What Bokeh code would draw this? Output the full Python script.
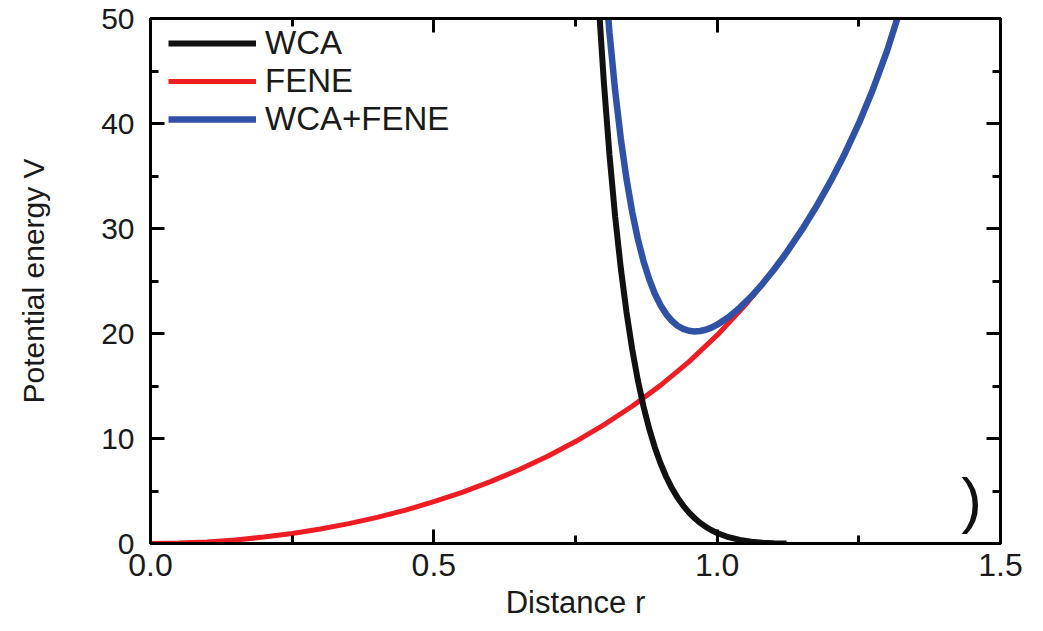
from bokeh.plotting import figure
from bokeh.models import (Range1d, LinearAxis, SingleIntervalTicker, NumeralTickFormatter,
                          CustomJSTickFormatter, Legend, LegendItem, Label)
from bokeh.embed import file_html
from bokeh.resources import INLINE

# ---- data ----
r_fene = [0.0, 0.05, 0.1, 0.15, 0.2, 0.25, 0.3, 0.35, 0.4, 0.45, 0.5, 0.55, 0.6, 0.65,
          0.7, 0.75, 0.8, 0.85, 0.9, 0.95, 1.0, 1.05, 1.1, 1.15, 1.175, 1.2, 1.225,
          1.25, 1.275, 1.3, 1.33]
v_fene = [0.0, 0.04, 0.15, 0.34, 0.61, 0.95, 1.38, 1.89, 2.49, 3.18, 3.98, 4.87, 5.89, 7.02,
          8.29, 9.71, 11.30, 13.07, 15.06, 17.30, 19.84, 22.73, 26.05, 29.91, 32.09, 34.48, 37.10,
          40.01, 43.27, 46.94, 52.07]

r_wca = [0.78, 0.79, 0.80, 0.81, 0.82, 0.83, 0.84, 0.85, 0.86, 0.87, 0.88, 0.89, 0.90, 0.91,
         0.92, 0.93, 0.94, 0.95, 0.96, 0.97, 0.98, 0.99, 1.00, 1.02, 1.04, 1.06, 1.08, 1.10, 1.1225]
v_wca = [62.1, 52.2, 43.96, 36.99, 31.12, 26.19, 22.03, 18.52, 15.55, 13.05, 10.94, 9.15, 7.64, 6.36,
         5.28, 4.37, 3.61, 2.96, 2.42, 1.96, 1.58, 1.26, 1.0, 0.60, 0.34, 0.17, 0.07, 0.02, 0.0]

r_sum = [0.80, 0.81, 0.82, 0.83, 0.84, 0.85, 0.86, 0.87, 0.88, 0.89, 0.90, 0.91, 0.92, 0.93,
         0.94, 0.95, 0.96, 0.97, 0.98, 0.99, 1.00, 1.02, 1.04, 1.06, 1.08, 1.10, 1.12, 1.15,
         1.175, 1.2, 1.225, 1.25, 1.275, 1.3, 1.33]
v_sum = [55.26, 48.63, 43.10, 38.53, 34.73, 31.59, 29.00, 26.89, 25.18, 23.79, 22.70, 21.85, 21.21, 20.74,
         20.44, 20.26, 20.20, 20.24, 20.36, 20.56, 20.84, 21.55, 22.46, 23.52, 24.73, 26.07, 27.52, 29.91,
         32.09, 34.48, 37.10, 40.01, 43.27, 46.94, 52.07]

series_names = ["WCA", "FENE", "WCA+FENE"]
x_title = "Distance r"
y_title = "Potential energy V"

FONT = "Liberation Sans"
TXT = "#1a1a1a"

p = figure(width=1043, height=631, output_backend="svg", toolbar_location=None,
           x_range=Range1d(0, 1.5), y_range=Range1d(0, 50),
           min_border_left=150, min_border_right=43, min_border_top=18, min_border_bottom=88,
           background_fill_color="white", border_fill_color="white")
p.xgrid.visible = False
p.ygrid.visible = False
p.outline_line_color = "black"
p.outline_line_width = 3

r_red = p.line(r_fene, v_fene, line_color="#ee1d23", line_width=5)
r_black = p.line(r_wca, v_wca, line_color="#111111", line_width=6)
r_blue = p.line(r_sum, v_sum, line_color="#3052a6", line_width=6.5)

def style_axis(ax, ticker, show_labels):
    ax.ticker = ticker
    ax.axis_line_color = "black"
    ax.axis_line_width = 3
    ax.major_tick_line_color = "black"
    ax.major_tick_line_width = 3
    ax.minor_tick_line_color = "black"
    ax.minor_tick_line_width = 3
    ax.major_tick_in = 14
    ax.major_tick_out = 0
    ax.minor_tick_in = 8
    ax.minor_tick_out = 0
    ax.major_label_text_font = FONT
    ax.major_label_text_color = TXT
    if not show_labels:
        ax.formatter = CustomJSTickFormatter(code="return ''")
        ax.major_label_standoff = 0

xt = SingleIntervalTicker(interval=0.5, num_minor_ticks=2)
yt = SingleIntervalTicker(interval=10, num_minor_ticks=2)

xa = p.xaxis[0]
style_axis(xa, xt, True)
xa.formatter = NumeralTickFormatter(format="0.0")
xa.major_label_text_font_size = "32px"
xa.major_label_standoff = 10
xa.axis_label = x_title
xa.axis_label_text_font = FONT
xa.axis_label_text_font_style = "normal"
xa.axis_label_text_font_size = "31px"
xa.axis_label_text_color = TXT
xa.axis_label_standoff = 6

ya = p.yaxis[0]
style_axis(ya, yt, True)
ya.major_label_text_font_size = "30px"
ya.major_label_standoff = 16
ya.axis_label = y_title
ya.axis_label_text_font = FONT
ya.axis_label_text_font_style = "normal"
ya.axis_label_text_font_size = "30px"
ya.axis_label_text_color = TXT
ya.axis_label_standoff = 48

ra = LinearAxis()
style_axis(ra, SingleIntervalTicker(interval=10, num_minor_ticks=2), False)
p.add_layout(ra, "right")
ta = LinearAxis()
style_axis(ta, SingleIntervalTicker(interval=0.5, num_minor_ticks=2), False)
p.add_layout(ta, "above")

legend = Legend(items=[LegendItem(label=series_names[0], renderers=[r_black]),
                       LegendItem(label=series_names[1], renderers=[r_red]),
                       LegendItem(label=series_names[2], renderers=[r_blue])],
                location=(18, 405))
legend.glyph_width = 88
legend.glyph_height = 36
legend.label_height = 36
legend.spacing = 0
legend.padding = 0
legend.margin = 0
legend.label_standoff = 9
legend.border_line_color = None
legend.background_fill_alpha = 0
legend.label_text_font = FONT
legend.label_text_font_size = "33px"
legend.label_text_color = TXT
p.add_layout(legend)

p.add_layout(Label(x=1.449, y=4.2, text=")", text_font=FONT, text_font_size="62px",
                   text_align="center", text_baseline="middle", text_color="#111111"))

open("out.html", "w").write(file_html(p, INLINE))
